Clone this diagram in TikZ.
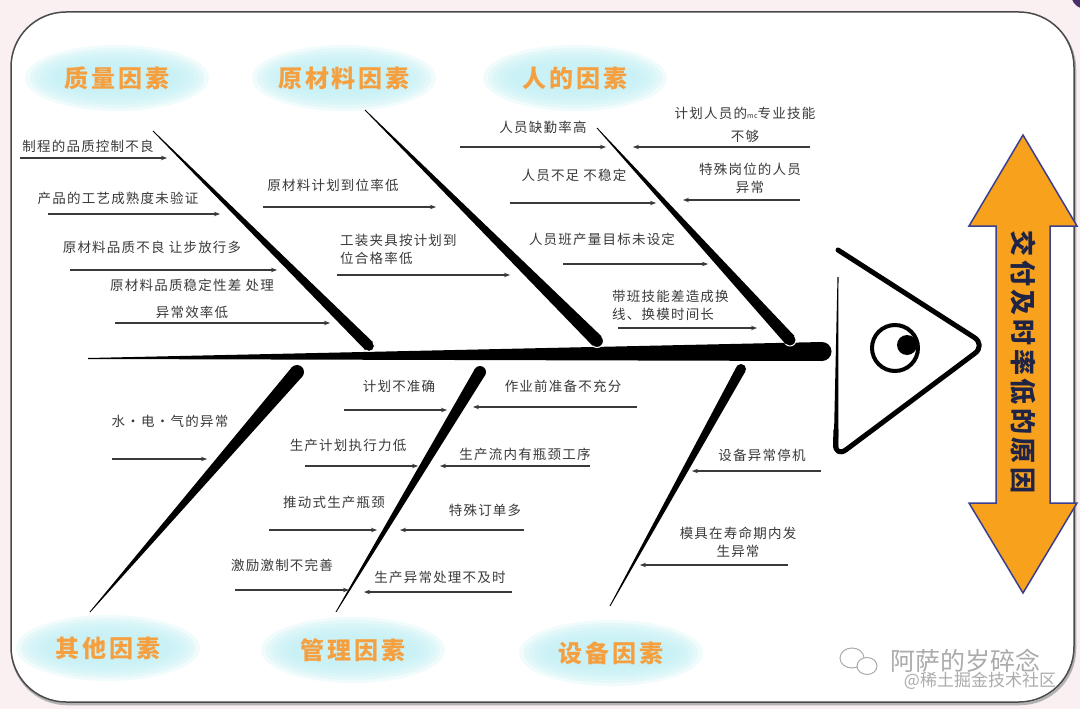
\documentclass[tikz,border=0pt]{standalone}
\usepackage{fontspec}
\usetikzlibrary{calc,arrows.meta}
\newfontfamily\cjk[LetterSpace=9]{Noto Sans CJK SC}
\newfontfamily\cjkcat[LetterSpace=12]{Noto Sans CJK SC}
\newfontfamily\cjkbig[LetterSpace=14]{Noto Sans CJK SC}
\newfontfamily\cjkwm{Noto Sans CJK SC}
\definecolor{bg}{HTML}{FAEFF1}
\definecolor{framec}{HTML}{4A4A4A}
\definecolor{lbl}{HTML}{3A3A3A}
\definecolor{catc}{HTML}{F5A040}
\definecolor{haloc}{HTML}{C2F1F6}
\definecolor{orng}{HTML}{F7A11C}
\definecolor{navy}{HTML}{3A3F8F}
\definecolor{navytext}{HTML}{1F2447}
\definecolor{wmc}{HTML}{ABABAB}
\definecolor{blob}{HTML}{4A2D6B}
\tikzset{
  lab/.style={font=\cjk\fontsize{13.5}{18}\selectfont, text=lbl, inner sep=0pt, align=center},
  cause/.style={draw=lbl, line width=1.2pt, -{Stealth[length=6pt,width=4.5pt]}},
  cattext/.style={font=\cjkcat\bfseries\fontsize{24}{28}\selectfont, text=catc, inner sep=0pt},
  boneend/.style={fill=black, draw=white, line width=1pt},
}
\newcommand\taper[4]{\fill ($(#1)!#3!90:(#2)$) -- ($(#2)!#4!-90:(#1)$) -- ($(#2)!#4!90:(#1)$) -- ($(#1)!#3!-90:(#2)$) -- cycle;}
\newcommand\cause[4]{\coordinate (#1s) at (#2,#4); \coordinate (#1e) at (#3,#4); \draw[cause] (#1s) -- (#1e);}
\newcommand\halo[2]{\foreach \i in {0,...,6} {\fill[haloc, opacity=0.24] (#1,#2) ellipse [x radius={(92-\i*5)*1pt}, y radius={(33-\i*3)*1pt}];}}
\begin{document}
\begin{tikzpicture}[x=1pt, y=-1pt]
\useasboundingbox (0,0) rectangle (1080,709);
\fill[bg] (0,0) rectangle (1080,709);
\begin{scope}
  \clip (0,0) rectangle (1080,709);
  \fill[blob] (1086,-6) circle (15pt);
\end{scope}
% frame
\draw[line width=2.5pt, draw=gray!60, rounded corners=55pt] (12,14) rectangle (1075,704);
\draw[line width=1.5pt, draw=framec, fill=white, rounded corners=55pt] (11,12) rectangle (1074,702);

% category halos and texts
\halo{117}{78}
\halo{344}{78}
\halo{575}{78}
\halo{108}{648}
\halo{353}{650}
\halo{611}{653}
\node[cattext] (c1) at (117,78) {质量因素};
\node[cattext] (c2) at (344,78) {原材料因素};
\node[cattext] (c3) at (575,78) {人的因素};
\node[cattext] (c4) at (108,648) {其他因素};
\node[cattext] (c5) at (353,650) {管理因素};
\node[cattext] (c6) at (611,653) {设备因素};

% spine
\fill (88,358) -- (822,342) -- (822,361) -- (88,359) -- cycle;
\fill (822,351.5) circle (9.5pt);

% upper bones
\coordinate (qa) at (153,131); \coordinate (qb) at (369,346);
\coordinate (ra) at (365,110); \coordinate (rb) at (597,341);
\coordinate (ha) at (597,128); \coordinate (hb) at (790,340);
\filldraw[boneend] (qb) circle (5.5pt); \taper{qa}{qb}{0.4pt}{5.5pt}
\filldraw[boneend] (rb) circle (6.5pt); \taper{ra}{rb}{0.4pt}{6.5pt}
\filldraw[boneend] (hb) circle (6pt); \taper{ha}{hb}{0.4pt}{6pt}

% lower bones
\coordinate (oa) at (297,372); \coordinate (ob) at (90,612);
\coordinate (ma) at (480,372); \coordinate (mb) at (336,612);
\coordinate (ea) at (741,369); \coordinate (eb) at (610,606);
\fill (oa) circle (7pt); \taper{ob}{oa}{0.4pt}{7pt}
\fill (ma) circle (6pt); \taper{mb}{ma}{0.4pt}{6pt}
\fill (ea) circle (5pt); \taper{eb}{ea}{0.4pt}{5pt}

% fish head
\draw[line width=5pt, line cap=round, line join=round, rounded corners=14pt] (838,250) -- (986,345) -- (835,458) -- (836,430);
\coordinate (fl1) at (838,277); \coordinate (fl2) at (836,448);
\taper{fl1}{fl2}{0.5pt}{2.3pt}
\draw[line width=4pt] (895,348) circle (23pt);
\fill (907,345) circle (10pt);

% goal arrow
\filldraw[fill=orng, draw=navy, line width=1.5pt, line join=miter]
  (1023,135) -- (1077,226) -- (1050,226) -- (1050,503) -- (1077,503) -- (1023,593)
  -- (969,503) -- (996,503) -- (996,226) -- (969,226) -- cycle;
\node[rotate=-90, inner sep=0pt, text=navytext, font=\cjkbig\bfseries\fontsize{26}{30}\selectfont] (goal) at (1023,362) {交付及时率低的原因};

% quality causes
\node[lab] (q1) at (88,146) {制程的品质控制不良};
\cause{q1}{20}{167}{158}
\node[lab] (q2) at (118,198) {产品的工艺成熟度未验证};
\cause{q2}{48}{220}{214}
\node[lab] (q3) at (152,247) {原材料品质不良 让步放行多};
\cause{q3}{70}{277}{270}
\node[lab] (q4) at (192,298.5) {原材料品质稳定性差 处理\\[9pt]异常效率低};
\cause{q4}{115}{330}{323}

% raw material causes
\node[lab] (r1) at (333,185) {原材料计划到位率低};
\cause{r1}{263}{436}{207}
\node[lab, align=left, anchor=west] (r2) at (340,249) {工装夹具按计划到\\位合格率低};
\cause{r2}{337}{510}{275}

% human causes
\node[lab] (h1) at (543,127) {人员缺勤率高};
\cause{h1}{460}{606}{147}
\node[lab] (h2) at (745,124.5) {计划人员的{\fontsize{7}{8}\selectfont mc}专业技能\\[5pt]不够};
\cause{h2}{810}{633}{147}
\node[lab] (h3) at (574,175) {人员不足 不稳定};
\cause{h3}{510}{656}{203}
\node[lab] (h4) at (750,178) {特殊岗位的人员\\异常};
\cause{h4}{800}{683}{200}
\node[lab] (h5) at (602,239) {人员班产量目标未设定};
\cause{h5}{563}{708}{264}
\node[lab, align=left, anchor=west] (h6) at (612,305.5) {带班技能差造成换\\线、换模时间长};
\cause{h6}{618}{757}{328}

% other causes
\node[lab] (o1) at (170,421) {水·电·气的异常};
\cause{o1}{112}{207}{459}

% management causes
\node[lab] (m1) at (399,386) {计划不准确};
\cause{m1}{344}{447}{410}
\node[lab] (m2) at (563,386) {作业前准备不充分};
\cause{m2}{637}{473}{407}
\node[lab] (m3) at (348,445) {生产计划执行力低};
\cause{m3}{305}{418}{466}
\node[lab] (m4) at (525,454) {生产流内有瓶颈工序};
\cause{m4}{590}{440}{466}
\node[lab] (m5) at (334,502) {推动式生产瓶颈};
\cause{m5}{269}{377}{530}
\node[lab] (m6) at (485,510) {特殊订单多};
\cause{m6}{524}{400}{530}
\node[lab] (m7) at (282,565) {激励激制不完善};
\cause{m7}{235}{349}{590}
\node[lab] (m8) at (440,577) {生产异常处理不及时};
\cause{m8}{512}{364}{592}

% equipment causes
\node[lab] (e1) at (762,455) {设备异常停机};
\cause{e1}{821}{692}{471}
\node[lab] (e2) at (738,542) {模具在寿命期内发\\生异常};
\cause{e2}{788}{640}{565}

% watermark
\draw[wmc, line width=1pt] (852,658) ellipse [x radius=12pt, y radius=10pt];
\filldraw[fill=white, draw=wmc, line width=1pt] (867,666) ellipse [x radius=10pt, y radius=8.5pt];
\node[inner sep=0pt, text=wmc, font=\cjkwm\fontsize{25}{28}\selectfont] (wm1) at (965,661) {阿萨的岁碎念};
\node[inner sep=0pt, text=wmc, font=\cjkwm\fontsize{17}{20}\selectfont] (wm2) at (980,681) {@稀土掘金技术社区};
\end{tikzpicture}
\end{document}
